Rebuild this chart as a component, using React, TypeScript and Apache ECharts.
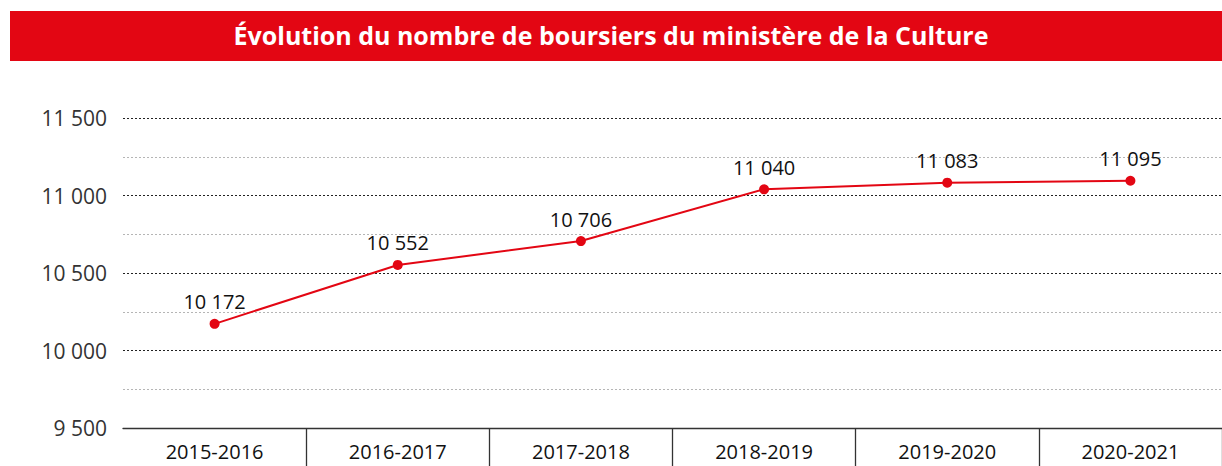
import React, { useEffect, useRef } from "react";
import * as echarts from "echarts";

const TITLE = "Évolution du nombre de boursiers du ministère de la Culture";
const categories = ["2015-2016", "2016-2017", "2017-2018", "2018-2019", "2019-2020", "2020-2021"];
const boursiers = [10172, 10552, 10706, 11040, 11083, 11095];
const yMin = 9500;
const yMax = 11500;
const yStep = 250;

const fmt = (v: number) => {
  const s = String(Math.round(v));
  return s.replace(/\B(?=(\d{3})+(?!\d))/g, " ");
};

const FONT = "'Open Sans', sans-serif";
const RED = "#E30613";

export default function App() {
  const ref = useRef<HTMLDivElement>(null);
  useEffect(() => {
    if (!ref.current) return;
    const chart = echarts.init(ref.current, undefined, { renderer: "svg" });
    chart.setOption({
      animation: false,
      textStyle: { fontFamily: FONT },
      graphic: [
        {
          type: "rect",
          left: 10,
          top: 11,
          shape: { width: 1212, height: 50 },
          style: { fill: RED },
          z: 0,
        },
        {
          type: "text",
          left: "center",
          top: 22,
          style: {
            text: TITLE,
            fill: "#ffffff",
            font: `bold 25px ${FONT}`,
          },
          z: 1,
        },
      ],
      grid: { left: 123, right: 0, top: 118, bottom: 38 },
      xAxis: {
        type: "category",
        data: categories,
        boundaryGap: true,
        axisLine: { show: true, lineStyle: { color: "#333", width: 1.3 } },
        axisTick: {
          show: true,
          length: 40,
          lineStyle: { color: "#333", width: 1.3 },
          interval: (index: number) => index > 0,
        },
        axisLabel: { color: "#111", fontSize: 20, margin: 13, fontFamily: FONT },
        splitLine: { show: false },
      },
      yAxis: {
        type: "value",
        min: yMin,
        max: yMax,
        interval: yStep,
        axisLine: { show: false },
        axisTick: { show: false },
        axisLabel: {
          color: "#333",
          fontSize: 21,
          margin: 16,
          fontFamily: FONT,
          formatter: (v: number) => (v % 500 === 0 ? fmt(v) : ""),
        },
        splitLine: {
          show: true,
          lineStyle: { color: ["#222", "#b5b5b5"], type: [2, 2], width: 1 },
        },
      },
      series: [
        {
          type: "line",
          data: boursiers,
          symbol: "circle",
          symbolSize: 10,
          lineStyle: { color: RED, width: 2 },
          itemStyle: { color: RED },
          label: {
            show: true,
            position: "top",
            distance: 7,
            color: "#111",
            fontSize: 20,
            fontFamily: FONT,
            formatter: (p: any) => fmt(p.value),
          },
        },
      ],
    });
    return () => chart.dispose();
  }, []);
  return (
    <div
      ref={ref}
      style={{ position: "absolute", left: 0, top: 0, width: 1222, height: 466, background: "#fff" }}
    />
  );
}
